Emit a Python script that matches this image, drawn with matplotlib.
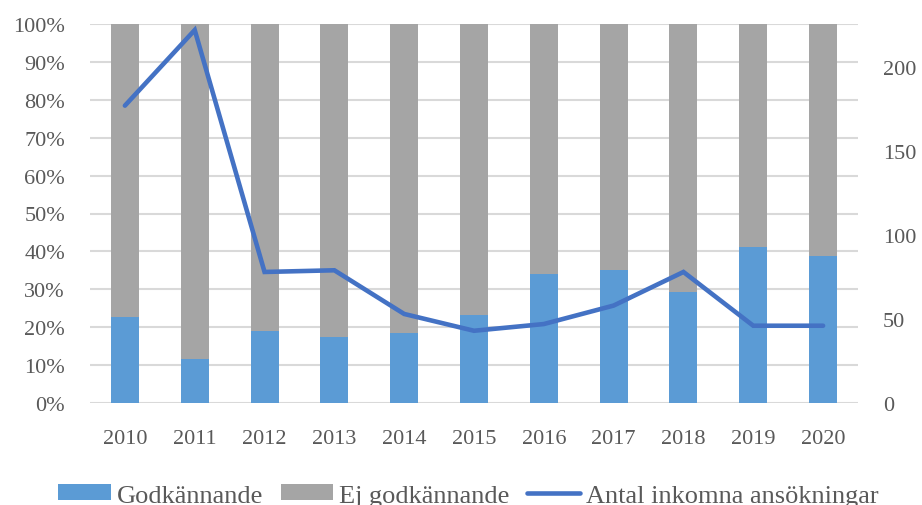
import matplotlib
matplotlib.use("Agg")
import matplotlib.pyplot as plt
import numpy as np
from matplotlib.ticker import PercentFormatter

years = ["2010", "2011", "2012", "2013", "2014", "2015", "2016", "2017", "2018", "2019", "2020"]
# share approved (percent), rest is not approved
godkannande = [22.6, 11.5, 19.1, 17.5, 18.6, 23.1, 34.0, 35.1, 29.3, 41.2, 38.9]
ej_godkannande = [100 - g for g in godkannande]
# number of incoming applications (right axis)
ansokningar = [177, 222, 78, 79, 53, 43, 47, 58, 78, 46, 46]

plt.rcParams['font.family'] = ['Liberation Serif', 'DejaVu Serif']
textColor = '#595959'
fontSize = 16

fig = plt.figure(figsize=(9.22, 5.06), dpi=100)
ax = fig.add_axes([90/922, 102/506, 768/922, 379/506])
ax2 = ax.twinx()

x = np.arange(len(years))
ax.bar(x, godkannande, width=0.4, color='#5B9BD5', label='Godkännande', zorder=2)
ax.bar(x, ej_godkannande, width=0.4, bottom=godkannande, color='#A5A5A5', label='Ej godkännande', zorder=2)
ax2.plot(x, ansokningar, color='#4472C4', linewidth=3.3, solid_capstyle='round',
         solid_joinstyle='miter', label='Antal inkomna ansökningar')

ax.set_xlim(-0.5, len(years) - 0.5)
ax.set_ylim(0, 100)
ax.set_yticks(np.arange(0, 101, 10))
ax.yaxis.set_major_formatter(PercentFormatter(decimals=0))
ax.set_xticks(x)
ax.set_xticklabels(years)
ax.grid(axis='y', color='#D9D9D9', linewidth=1.5, zorder=0)
ax.set_axisbelow(True)

ax2.set_ylim(0, 225.6)
ax2.set_yticks([0, 50, 100, 150, 200])

for a in (ax, ax2):
    for s in a.spines.values():
        s.set_visible(False)
ax.tick_params(axis='both', length=0, labelsize=fontSize, labelcolor=textColor)
ax.tick_params(axis='y', pad=18)
ax.tick_params(axis='x', pad=19)
ax2.tick_params(axis='y', length=0, labelsize=fontSize, labelcolor=textColor, pad=18)

h1, l1 = ax.get_legend_handles_labels()
h2, l2 = ax2.get_legend_handles_labels()
fig.legend(h1 + h2, l1 + l2, loc='lower center', bbox_to_anchor=(0.508, -0.05), ncol=3,
           frameon=False, fontsize=19, labelcolor=textColor, handlelength=2.0,
           handleheight=0.55, handletextpad=0.23, columnspacing=0.66)

fig.savefig('out.png', dpi=100)
